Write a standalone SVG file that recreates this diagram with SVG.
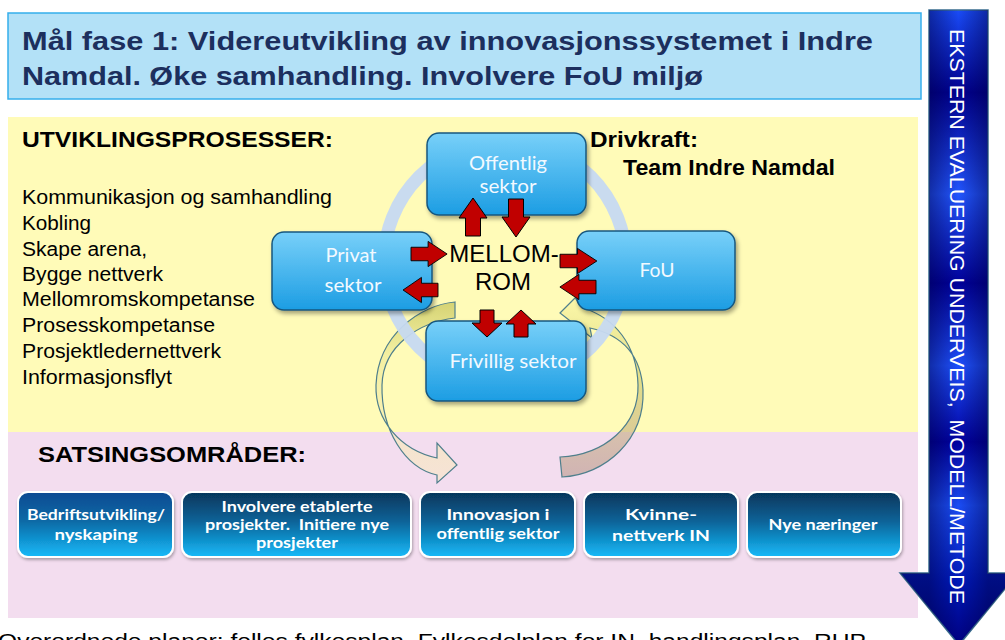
<svg xmlns="http://www.w3.org/2000/svg" width="1005" height="640" viewBox="0 0 1005 640">
  <defs>
    <style>
      .head { font-family: "Liberation Sans", Arial, sans-serif; font-weight: bold; fill: #000; }
      .item { font-family: "Liberation Sans", Arial, sans-serif; font-size: 20px; fill: #000; }
      .title { font-family: "Liberation Sans", Arial, sans-serif; font-weight: bold; font-size: 25px; fill: #1c2f5e; }
      .sector rect { stroke: #17577f; stroke-width: 1.5; fill: url(#sectorFill); filter: url(#shadow); }
      .sector text { font-family: Lato, "Open Sans", sans-serif; font-size: 19px; fill: #f2f9ff; text-anchor: middle; }
      .area rect { stroke: #ffffff; stroke-width: 2; filter: url(#shadowSmall); }
      .area text { font-family: Lato, "Open Sans", sans-serif; font-weight: bold; font-size: 15px; fill: #ffffff; text-anchor: middle; }
      .red { fill: #c00000; stroke: #000; stroke-width: 1; stroke-linejoin: miter; }
      .curve { stroke: #4f7f8c; stroke-width: 1.2; }
    </style>
    <linearGradient id="sectorFill" x1="0" y1="0" x2="0" y2="1">
      <stop offset="0" stop-color="#78d0f9"/>
      <stop offset="1" stop-color="#1c9de3"/>
    </linearGradient>
    <linearGradient id="areaFill" x1="0" y1="0" x2="0" y2="1">
      <stop offset="0" stop-color="#06355a"/>
      <stop offset="0.45" stop-color="#0a6398"/>
      <stop offset="1" stop-color="#16baf9"/>
    </linearGradient>
    <linearGradient id="areaFillBlue" x1="0" y1="0" x2="0" y2="1">
      <stop offset="0" stop-color="#0f4a92"/>
      <stop offset="0.45" stop-color="#0b6aa6"/>
      <stop offset="1" stop-color="#16baf9"/>
    </linearGradient>
    <linearGradient id="evalBands" gradientUnits="userSpaceOnUse" x1="0" y1="10" x2="0" y2="645">
      <stop offset="0" stop-color="#1a4cf8"/>
      <stop offset="0.13" stop-color="#000090"/>
      <stop offset="0.29" stop-color="#2256ff"/>
      <stop offset="0.43" stop-color="#00009a"/>
      <stop offset="0.56" stop-color="#1e50fc"/>
      <stop offset="0.68" stop-color="#0000a0"/>
      <stop offset="0.78" stop-color="#1a4cf4"/>
      <stop offset="0.9" stop-color="#0018b8"/>
      <stop offset="1" stop-color="#000080"/>
    </linearGradient>
    <linearGradient id="evalSides" gradientUnits="userSpaceOnUse" x1="929" y1="0" x2="988" y2="0">
      <stop offset="0" stop-color="#000040" stop-opacity="0.45"/>
      <stop offset="0.5" stop-color="#000040" stop-opacity="0"/>
      <stop offset="1" stop-color="#000040" stop-opacity="0.45"/>
    </linearGradient>
    <linearGradient id="curveLeft" gradientUnits="userSpaceOnUse" x1="0" y1="300" x2="0" y2="485">
      <stop offset="0" stop-color="#c9c760" stop-opacity="0.8"/>
      <stop offset="0.3" stop-color="#efeb98" stop-opacity="0.7"/>
      <stop offset="0.7" stop-color="#f6ebb0" stop-opacity="0.6"/>
      <stop offset="1" stop-color="#f8e6c8" stop-opacity="0.6"/>
    </linearGradient>
    <linearGradient id="curveRight" gradientUnits="userSpaceOnUse" x1="0" y1="298" x2="0" y2="478">
      <stop offset="0" stop-color="#fbf7a6" stop-opacity="0.8"/>
      <stop offset="0.45" stop-color="#d6d274" stop-opacity="0.7"/>
      <stop offset="0.75" stop-color="#c4ad80" stop-opacity="0.6"/>
      <stop offset="1" stop-color="#b9978c" stop-opacity="0.6"/>
    </linearGradient>
    <filter id="shadow" x="-10%" y="-10%" width="125%" height="130%">
      <feDropShadow dx="2" dy="3" stdDeviation="2" flood-color="#000" flood-opacity="0.35"/>
    </filter>
    <filter id="shadowSmall" x="-10%" y="-10%" width="125%" height="130%">
      <feDropShadow dx="1" dy="2" stdDeviation="1.5" flood-color="#000" flood-opacity="0.3"/>
    </filter>
    <!-- block arrows pointing along +x, tail at origin -->
    <polygon id="blockArrow" points="0,-7.5 18,-7.5 18,-14 38,0 18,14 18,7.5 0,7.5"/>
    <polygon id="blockArrowShort" points="0,-7 13,-7 13,-15 27,0 13,15 13,7 0,7"/>
  </defs>

  <rect width="1005" height="640" fill="#ffffff"/>

  <!-- background bands -->
  <rect x="8" y="117" width="910" height="315" fill="#fffbb8"/>
  <rect x="8" y="432" width="910" height="186" fill="#f3ddef"/>

  <!-- title -->
  <g id="title">
    <rect x="8" y="13" width="913" height="86" fill="#b3e1f7" stroke="#35aeec" stroke-width="1.5"/>
    <text class="title" x="22" y="50" textLength="851" lengthAdjust="spacingAndGlyphs">Mål fase 1: Videreutvikling av innovasjonssystemet i Indre</text>
    <text class="title" x="22" y="85" textLength="681" lengthAdjust="spacingAndGlyphs">Namdal. Øke samhandling. Involvere FoU miljø</text>
  </g>

  <!-- evaluation arrow along the right edge -->
  <g id="evaluation">
    <path d="M929,10 L988,10 L988,573 L1018,573 L959,645 L900,573 L929,573 Z" fill="url(#evalBands)" stroke="#3a6e90" stroke-width="1.5"/>
    <path d="M929,10 L988,10 L988,573 L1018,573 L959,645 L900,573 L929,573 Z" fill="url(#evalSides)"/>
    <text transform="translate(950,29) rotate(90)" x="0" y="0" font-family="Liberation Sans, Arial, sans-serif" font-size="20" fill="#ffffff" textLength="575" lengthAdjust="spacingAndGlyphs" xml:space="preserve">EKSTERN EVALUERING UNDERVEIS,  MODELL/METODE</text>
  </g>

  <!-- process list -->
  <g id="processes">
    <text class="head" x="22" y="147" font-size="22" textLength="311" lengthAdjust="spacingAndGlyphs">UTVIKLINGSPROSESSER:</text>
    <text class="item" x="22" y="204" textLength="310" lengthAdjust="spacingAndGlyphs">Kommunikasjon og samhandling</text>
    <text class="item" x="22" y="230" textLength="69" lengthAdjust="spacingAndGlyphs">Kobling</text>
    <text class="item" x="22" y="256" textLength="125" lengthAdjust="spacingAndGlyphs">Skape arena,</text>
    <text class="item" x="22" y="281" textLength="141" lengthAdjust="spacingAndGlyphs">Bygge nettverk</text>
    <text class="item" x="22" y="306" textLength="233" lengthAdjust="spacingAndGlyphs">Mellomromskompetanse</text>
    <text class="item" x="22" y="332" textLength="193" lengthAdjust="spacingAndGlyphs">Prosesskompetanse</text>
    <text class="item" x="22" y="358" textLength="199" lengthAdjust="spacingAndGlyphs">Prosjektledernettverk</text>
    <text class="item" x="22" y="384" textLength="150" lengthAdjust="spacingAndGlyphs">Informasjonsflyt</text>
  </g>

  <g id="driver">
    <text class="head" x="590" y="147" font-size="22" textLength="108" lengthAdjust="spacingAndGlyphs">Drivkraft:</text>
    <text class="head" x="623" y="175" font-size="22" textLength="212" lengthAdjust="spacingAndGlyphs">Team Indre Namdal</text>
  </g>

  <g id="focus-heading">
    <text class="head" x="38" y="462" font-size="22" textLength="268" lengthAdjust="spacingAndGlyphs">SATSINGSOMRÅDER:</text>
  </g>

  <!-- connectors: feedback curves, cycle ring and exchange arrows -->
  <g id="connectors">
    <path class="curve" fill="url(#curveLeft)" d="M455,302 C420,305 378,335 376,385 C375,420 400,450 437,458 L437,443 L457,465 L437,483 L437,475 C405,468 381,430 382,385 C383,345 420,322 455,318 Z"/>
    <path class="curve" fill="url(#curveRight)" d="M562,477 C605,475 645,440 643,390 C641,355 622,335 590,328 L592,338 L560,313 L575,298 L583,308 C615,318 637,345 638,385 C639,425 605,455 560,457 Z"/>
    <circle cx="505" cy="262" r="121" fill="none" stroke="#c6d9f1" stroke-width="13" opacity="0.95"/>
  </g>

  <!-- sector nodes -->
  <g id="node-offentlig" class="sector">
    <rect x="427" y="133" width="159" height="82" rx="12"/>
    <text x="508" y="170" textLength="78" lengthAdjust="spacingAndGlyphs">Offentlig</text>
    <text x="508" y="193" textLength="57" lengthAdjust="spacingAndGlyphs">sektor</text>
  </g>
  <g id="node-privat" class="sector">
    <rect x="272" y="232" width="160" height="78" rx="12"/>
    <text x="351" y="262" textLength="51" lengthAdjust="spacingAndGlyphs">Privat</text>
    <text x="353" y="292" textLength="57" lengthAdjust="spacingAndGlyphs">sektor</text>
  </g>
  <g id="node-fou" class="sector">
    <rect x="577" y="231" width="158" height="79" rx="12"/>
    <text x="657" y="277" textLength="35" lengthAdjust="spacingAndGlyphs">FoU</text>
  </g>
  <g id="node-frivillig" class="sector">
    <rect x="426" y="321" width="160" height="80" rx="12"/>
    <text x="513" y="368" textLength="127" lengthAdjust="spacingAndGlyphs">Frivillig sektor</text>
  </g>

  <g id="node-mellomrom">
    <text x="504" y="262" font-family="Liberation Sans, Arial, sans-serif" font-size="24" fill="#000" text-anchor="middle">MELLOM-</text>
    <text x="503" y="290" font-family="Liberation Sans, Arial, sans-serif" font-size="24" fill="#000" text-anchor="middle">ROM</text>
  </g>

  <g id="exchange-arrows">
    <use href="#blockArrow" class="red" transform="translate(473,236) rotate(-90)"/>
    <use href="#blockArrow" class="red" transform="translate(516,199) rotate(90)"/>
    <use href="#blockArrow" class="red" transform="translate(411,254) scale(0.95,0.9)"/>
    <use href="#blockArrow" class="red" transform="translate(438,290) rotate(180) scale(0.92,0.9)"/>
    <use href="#blockArrow" class="red" transform="translate(560,261) scale(0.97,0.9)"/>
    <use href="#blockArrow" class="red" transform="translate(596,287) rotate(180) scale(0.95,0.9)"/>
    <use href="#blockArrowShort" class="red" transform="translate(487,310) rotate(90)"/>
    <use href="#blockArrowShort" class="red" transform="translate(521,337) rotate(-90)"/>
  </g>

  <!-- focus areas -->
  <g id="area-bedrift" class="area">
    <rect x="18" y="492" width="155" height="65" rx="10" fill="url(#areaFillBlue)"/>
    <text x="96" y="520" textLength="138" lengthAdjust="spacingAndGlyphs">Bedriftsutvikling/</text>
    <text x="96" y="540" textLength="83" lengthAdjust="spacingAndGlyphs">nyskaping</text>
  </g>
  <g id="area-prosjekter" class="area">
    <rect x="182" y="492" width="229" height="65" rx="10" fill="url(#areaFill)"/>
    <text x="297" y="512" textLength="151" lengthAdjust="spacingAndGlyphs">Involvere etablerte</text>
    <text x="297" y="530" textLength="184" lengthAdjust="spacingAndGlyphs" xml:space="preserve">prosjekter.  Initiere nye</text>
    <text x="297" y="548" textLength="82" lengthAdjust="spacingAndGlyphs">prosjekter</text>
  </g>
  <g id="area-innovasjon" class="area">
    <rect x="420" y="492" width="155" height="65" rx="10" fill="url(#areaFill)"/>
    <text x="498" y="520" textLength="103" lengthAdjust="spacingAndGlyphs">Innovasjon i</text>
    <text x="498" y="539" textLength="123" lengthAdjust="spacingAndGlyphs">offentlig sektor</text>
  </g>
  <g id="area-kvinnenettverk" class="area">
    <rect x="584" y="492" width="154" height="65" rx="10" fill="url(#areaFill)"/>
    <text x="661" y="520" textLength="72" lengthAdjust="spacingAndGlyphs">Kvinne-</text>
    <text x="661" y="541" textLength="98" lengthAdjust="spacingAndGlyphs">nettverk IN</text>
  </g>
  <g id="area-naeringer" class="area">
    <rect x="747" y="492" width="154" height="65" rx="10" fill="url(#areaFill)"/>
    <text x="823" y="530" textLength="109" lengthAdjust="spacingAndGlyphs">Nye næringer</text>
  </g>

  <!-- footer line, running past the lower edge -->
  <text x="-2" y="648" font-family="Liberation Sans, Arial, sans-serif" font-size="20" fill="#000" textLength="868" lengthAdjust="spacingAndGlyphs">Overordnede planer: felles fylkesplan, Fylkesdelplan for IN, handlingsplan, RUP</text>
</svg>
